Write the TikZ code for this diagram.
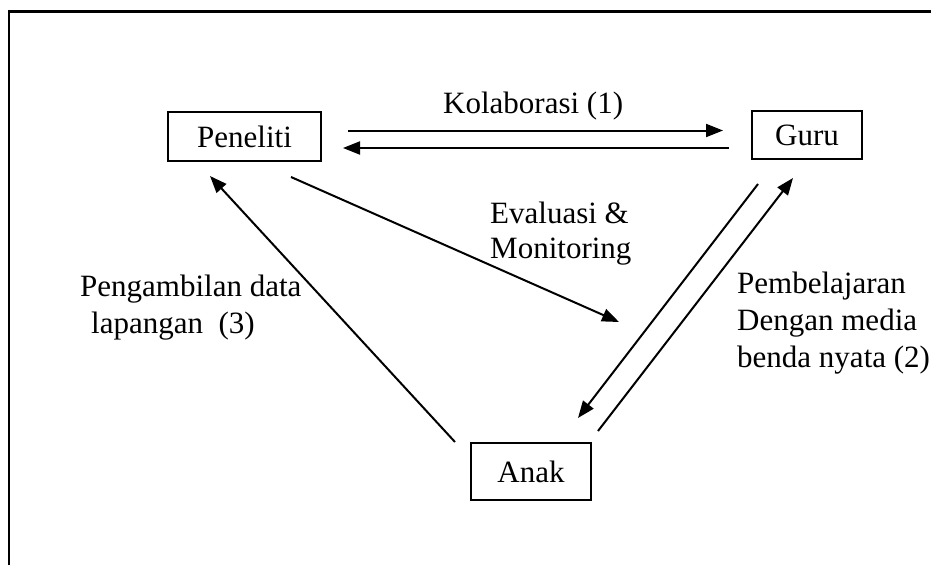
\documentclass[tikz,border=0pt]{standalone}
\usepackage{fontspec}
\setmainfont{Liberation Serif}
\usetikzlibrary{arrows.meta}
\begin{document}
\begin{tikzpicture}[x=1pt,y=-1pt,
  box/.style={draw,line width=1.6pt,inner sep=0pt,font=\fontsize{31}{36}\selectfont},
  lbl/.style={anchor=base west,inner sep=0pt,font=\fontsize{31}{36}\selectfont},
  conn/.style={line width=2pt,-{Triangle[length=17pt,width=13pt]}}]
\useasboundingbox (0,0) rectangle (931,565);
\draw[line width=2.2pt] (9,565) -- (9,11.5) -- (931,11.5);
% boxes
\node[box,minimum width=153pt,minimum height=49pt] (pen) at (244.5,136.5) {Peneliti};
\node[box,minimum width=110pt,minimum height=48pt] (guru) at (807,135) {Guru};
\node[box,minimum width=120pt,minimum height=57pt] (anak) at (531,471.5) {Anak};
% connector ends
\coordinate (k1s) at (348,130.5); \coordinate (k1e) at (723,130.5);
\coordinate (k2s) at (729,148);   \coordinate (k2e) at (343,148);
\coordinate (g1s) at (758,184);   \coordinate (g1e) at (578,418);
\coordinate (g2s) at (598,431);   \coordinate (g2e) at (793,178);
\coordinate (a1s) at (455,442);   \coordinate (a1e) at (210,176);
\coordinate (e1s) at (291,177);   \coordinate (e1e) at (619,322);
\draw[conn] (k1s) -- (k1e);
\draw[conn] (k2s) -- (k2e);
\draw[conn] (g1s) -- (g1e);
\draw[conn] (g2s) -- (g2e);
\draw[conn] (a1s) -- (a1e);
\draw[conn] (e1s) -- (e1e);
% labels
\node[lbl] (kol) at (443,113) {Kolaborasi (1)};
\node[lbl] (ev1) at (490,223) {Evaluasi \&};
\node[lbl] (ev2) at (490,258) {Monitoring};
\node[lbl] (pg1) at (80,296) {Pengambilan data};
\node[lbl] (pg2) at (91,333) {lapangan~~(3)};
\node[lbl] (pb1) at (737,293) {Pembelajaran};
\node[lbl] (pb2) at (737,330) {Dengan media};
\node[lbl] (pb3) at (737,367) {benda nyata (2)};
\end{tikzpicture}
\end{document}
